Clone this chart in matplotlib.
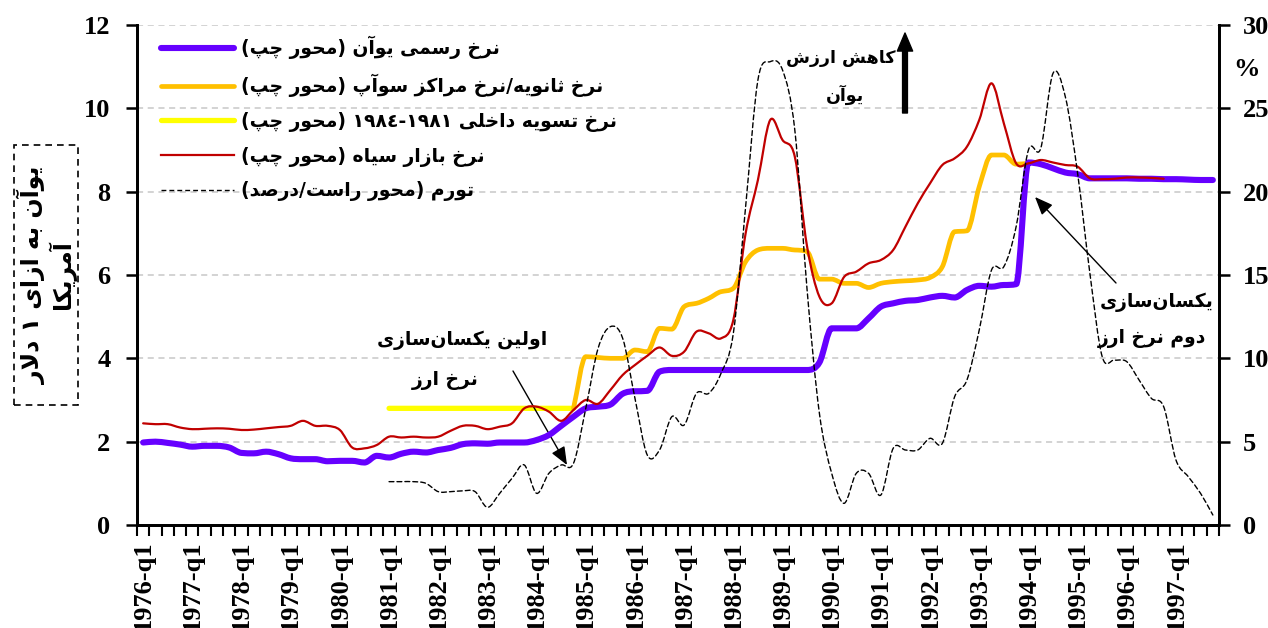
import re
import numpy as np
import matplotlib
matplotlib.use("Agg")
import matplotlib.pyplot as plt
from matplotlib.path import Path
from matplotlib.patches import PathPatch, Rectangle
from matplotlib.lines import Line2D

# ---------------- data ----------------
years = list(range(1976, 1998))
quarters = [f"{y}-q{q}" for y in years for q in range(1, 5)]
tick_labels = [f"{y}-q1" for y in years]

official = [1.98, 2.00, 1.97, 1.93, 1.88, 1.90, 1.90, 1.86, 1.73, 1.72,
            1.76, 1.70, 1.60, 1.58, 1.58, 1.53, 1.54, 1.54, 1.50, 1.66,
            1.62, 1.71, 1.76, 1.74, 1.80, 1.85, 1.94, 1.96, 1.95, 1.98,
            1.98, 1.98, 2.04, 2.16, 2.38, 2.60, 2.80, 2.84, 2.89, 3.15,
            3.21, 3.22, 3.68, 3.72, 3.72, 3.72, 3.72, 3.72, 3.72, 3.72,
            3.72, 3.72, 3.72, 3.72, 3.72, 3.90, 4.72, 4.72, 4.72, 4.96,
            5.24, 5.32, 5.38, 5.40, 5.46, 5.50, 5.46, 5.64, 5.74, 5.72,
            5.76, 5.78, 8.70, 8.66, 8.56, 8.46, 8.42, 8.32, 8.32, 8.32,
            8.32, 8.31, 8.31, 8.30, 8.30, 8.29, 8.28, 8.28]

secondary_start = 35
secondary = [2.80, 4.04, 4.02, 4.00, 4.00, 4.20, 4.16, 4.72, 4.70, 5.24,
             5.32, 5.44, 5.60, 5.68, 6.32, 6.60, 6.64, 6.64, 6.60, 6.56,
             5.90, 5.90, 5.80, 5.80, 5.70, 5.80, 5.84, 5.86, 5.88, 5.94,
             6.20, 7.04, 7.06, 8.12, 8.88, 8.88, 8.66, 8.68]

settlement_start = 20
settlement = [2.80, 2.80, 2.80, 2.80, 2.80, 2.80, 2.80, 2.80,
              2.80, 2.80, 2.80, 2.80, 2.80, 2.80, 2.80, 2.80]

black_market = [2.44, 2.42, 2.42, 2.34, 2.30, 2.31, 2.32, 2.31, 2.28, 2.29,
                2.32, 2.35, 2.38, 2.50, 2.38, 2.38, 2.28, 1.86, 1.84, 1.92,
                2.12, 2.10, 2.12, 2.10, 2.12, 2.26, 2.38, 2.38, 2.30, 2.36,
                2.44, 2.80, 2.84, 2.72, 2.50, 2.76, 3.00, 2.91, 3.24, 3.60,
                3.84, 4.06, 4.26, 4.06, 4.16, 4.64, 4.60, 4.48, 4.92, 7.00,
                8.28, 9.72, 9.24, 8.84, 6.68, 5.48, 5.32, 5.95, 6.08, 6.28,
                6.36, 6.60, 7.16, 7.72, 8.20, 8.64, 8.80, 9.08, 9.72, 10.60,
                9.64, 8.68, 8.68, 8.76, 8.70, 8.64, 8.60, 8.32, 8.30, 8.31,
                8.34, 8.34, 8.33, 8.31]

inflation_start = 20
inflation = [2.6, 2.6, 2.6, 2.5, 2.0, 2.0, 2.05, 2.0, 1.06, 1.9,
             2.8, 3.6, 1.9, 3.1, 3.6, 3.7, 7.0, 10.6, 11.9, 11.2,
             7.6, 4.2, 4.5, 6.5, 6.0, 7.9, 7.9, 9.1, 11.5, 19.1,
             26.7, 27.8, 27.3, 23.7, 14.1, 6.7, 3.1, 1.3, 3.1, 3.1,
             1.8, 4.6, 4.5, 4.5, 5.2, 4.9, 7.7, 8.7, 11.7, 15.3,
             15.5, 17.9, 22.5, 22.6, 27.1, 25.7, 21.1, 15.1, 10.1, 9.9,
             9.8, 8.7, 7.6, 7.1, 3.9, 2.9, 1.9, 0.6]

legend_labels = ["نرخ رسمی یوآن (محور چپ)",
                 "نرخ ثانویه/نرخ مراکز سوآپ (محور چپ)",
                 "نرخ تسویه داخلی ١٩٨١-١٩٨٤ (محور چپ)",
                 "نرخ بازار سیاه (محور چپ)",
                 "تورم (محور راست/درصد)"]

# ---------------- minimal Persian shaping ----------------
DUAL = {'ب': 0xFE8F, 'ت': 0xFE95, 'ث': 0xFE99, 'ج': 0xFE9D, 'ح': 0xFEA1,
        'خ': 0xFEA5, 'س': 0xFEB1, 'ش': 0xFEB5, 'ص': 0xFEB9, 'ض': 0xFEBD,
        'ط': 0xFEC1, 'ظ': 0xFEC5, 'ع': 0xFEC9, 'غ': 0xFECD, 'ف': 0xFED1,
        'ق': 0xFED5, 'ل': 0xFEDD, 'م': 0xFEE1, 'ن': 0xFEE5, 'ه': 0xFEE9,
        'پ': 0xFB56, 'چ': 0xFB7A, 'ک': 0xFB8E, 'گ': 0xFB92, 'ی': 0xFBFC}
RIGHT = {'ا': 0xFE8D, 'آ': 0xFE81, 'د': 0xFEA9, 'ذ': 0xFEAB, 'ر': 0xFEAD,
         'ز': 0xFEAF, 'ژ': 0xFB8A, 'و': 0xFEED}


def _joins(c):
    return c in DUAL or c in RIGHT


def shape(s):
    out = []
    i, n = 0, len(s)
    while i < n:
        c = s[i]
        prev = s[i - 1] if i > 0 else ''
        jp = (prev in DUAL) and _joins(c)
        if c == 'ل' and i + 1 < n and s[i + 1] in 'اآ':
            base = 0xFEFB if s[i + 1] == 'ا' else 0xFEF5
            out.append(chr(base + (1 if jp else 0)))
            i += 2
            continue
        nxt = s[i + 1] if i + 1 < n else ''
        if c in DUAL:
            jn = _joins(nxt)
            off = 3 if (jp and jn) else 1 if jp else 2 if jn else 0
            out.append(chr(DUAL[c] + off))
        elif c in RIGHT:
            out.append(chr(RIGHT[c] + (1 if jp else 0)))
        elif c == '\u200c':
            pass
        else:
            out.append(c)
        i += 1
    return ''.join(out)


def fa(s):
    t = shape(s)[::-1]
    t = re.sub(r'[0-9\u0660-\u0669\u06F0-\u06F9]+', lambda m: m.group(0)[::-1], t)
    return t.translate(str.maketrans('()', ')('))


# ---------------- smooth rendering of the series ----------------
def tangents(y, monotone):
    y = np.asarray(y, float)
    n = len(y)
    d = np.diff(y)
    m = np.zeros(n)
    if n < 2:
        return m
    m[0], m[-1] = d[0], d[-1]
    for k in range(1, n - 1):
        if monotone and d[k - 1] * d[k] <= 0:
            m[k] = 0.0
        else:
            m[k] = 0.5 * (d[k - 1] + d[k])
    if monotone:
        for k in range(n - 1):
            if d[k] == 0:
                m[k] = m[k + 1] = 0.0
                continue
            a, b = m[k] / d[k], m[k + 1] / d[k]
            s = a * a + b * b
            if s > 9:
                t = 3 / np.sqrt(s)
                m[k], m[k + 1] = t * a * d[k], t * b * d[k]
    return m


def smooth_path(x, y, monotone):
    x = np.asarray(x, float)
    y = np.asarray(y, float)
    m = tangents(y, monotone)
    verts = [(x[0], y[0])]
    codes = [Path.MOVETO]
    for k in range(len(x) - 1):
        h = x[k + 1] - x[k]
        verts += [(x[k] + h / 3, y[k] + m[k] * h / 3),
                  (x[k + 1] - h / 3, y[k + 1] - m[k + 1] * h / 3),
                  (x[k + 1], y[k + 1])]
        codes += [Path.CURVE4] * 3
    return Path(verts, codes)


def draw_series(ax, start, values, monotone=False, **kw):
    x = np.arange(start, start + len(values))
    patch = PathPatch(smooth_path(x, values, monotone), fill=False,
                      capstyle='round', joinstyle='round', **kw)
    ax.add_patch(patch)


# ---------------- figure ----------------
W, H = 1268, 628
fig = plt.figure(figsize=(W / 100, H / 100), dpi=100)
ax = fig.add_axes([137 / W, 1 - 525 / H, (1219 - 137) / W, 500 / H])
ax2 = ax.twinx()

PURPLE = '#6600FF'
ORANGE = '#FFC000'
YELLOW = '#FFFF00'
RED = '#C00000'

draw_series(ax, settlement_start, settlement, True, edgecolor=YELLOW, linewidth=3.8, zorder=3)
draw_series(ax, secondary_start, secondary, True, edgecolor=ORANGE, linewidth=3.4, zorder=4)
draw_series(ax, 0, black_market, False, edgecolor=RED, linewidth=1.6, zorder=5)
draw_series(ax, 0, official, True, edgecolor=PURPLE, linewidth=4.4, zorder=4.5)
draw_series(ax2, inflation_start, inflation, False, edgecolor='black', linewidth=1.0,
            linestyle=(0, (3.5, 2.2)), zorder=6)

n = len(quarters)
ax.set_xlim(-0.5, n - 0.5)
ax.set_ylim(0, 12)
ax2.set_ylim(0, 30)

serif = {'family': 'Liberation Serif', 'weight': 'bold', 'size': 19}
ax.set_yticks(range(0, 13, 2))
ax.set_yticklabels([str(v) for v in range(0, 13, 2)], fontdict=serif)
ax2.set_yticks(range(0, 31, 5))
ax2.set_yticklabels([str(v) for v in range(0, 31, 5)], fontdict=serif)

q1_pos = [i for i, q in enumerate(quarters) if q.endswith('q1')]
ax.set_xticks(q1_pos)
ax.set_xticklabels(tick_labels, rotation=90, fontdict=serif, va='top', ha='center')
ax.set_xticks(np.arange(-0.5, n, 1.0), minor=True)
ax.tick_params(axis='x', which='major', length=0, pad=11)
ax.tick_params(axis='x', which='minor', length=8, width=1.5, direction='out')
ax.tick_params(axis='y', which='major', length=8, width=1.8, direction='out', pad=11)
ax2.tick_params(axis='y', which='major', length=8, width=1.8, direction='out', pad=9)

for a in (ax, ax2):
    a.spines['top'].set_visible(False)
    for s in ('left', 'right', 'bottom'):
        a.spines[s].set_linewidth(2)
        a.spines[s].set_color('black')

ax.yaxis.grid(True, linestyle=(0, (4, 3)), color='#c8c8c8', linewidth=1.1)
ax.set_axisbelow(True)

# legend
handles = [Line2D([], [], color=PURPLE, lw=4.4, solid_capstyle='round'),
           Line2D([], [], color=ORANGE, lw=3.4, solid_capstyle='round'),
           Line2D([], [], color=YELLOW, lw=3.8, solid_capstyle='round'),
           Line2D([], [], color=RED, lw=1.6),
           Line2D([], [], color='black', lw=1.0, linestyle=(0, (3.5, 2.2)))]
leg = ax2.legend(handles, [fa(s) for s in legend_labels], loc='upper left',
                 bbox_to_anchor=(161 / W, 1 - 36 / H), bbox_transform=fig.transFigure,
                 frameon=False, handlelength=3.9, handletextpad=0.35,
                 labelspacing=0.78, borderpad=0, borderaxespad=0,
                 prop={'family': 'DejaVu Sans', 'weight': 'bold', 'size': 13.5})

fafont = {'family': 'DejaVu Sans', 'weight': 'bold'}


def px(xp, yp):
    return (xp / W, 1 - yp / H)


# annotations
fig.text(*px(841, 58), fa("کاهش ارزش"), ha='center', va='center', size=12.5, **fafont)
fig.text(*px(845, 95), fa("یوآن"), ha='center', va='center', size=12.5, **fafont)
ax.annotate('', xy=px(905, 33), xytext=px(905, 113), xycoords='figure fraction',
            textcoords='figure fraction',
            arrowprops=dict(width=3.5, headwidth=11, headlength=13, color='black'))

fig.text(*px(462, 340), fa("اولین یکسان\u200cسازی"), ha='center', va='center', size=13.5, **fafont)
fig.text(*px(445, 380), fa("نرخ ارز"), ha='center', va='center', size=13.5, **fafont)
ax.annotate('', xy=px(567, 465), xytext=px(513, 371), xycoords='figure fraction',
            textcoords='figure fraction',
            arrowprops=dict(arrowstyle='-|>,head_length=1.1,head_width=0.45',
                            color='black', lw=1.0, shrinkA=0, shrinkB=0))

fig.text(*px(1157, 302), fa("یکسان\u200cسازی"), ha='center', va='center', size=13.5, **fafont)
fig.text(*px(1152, 338), fa("دوم نرخ ارز"), ha='center', va='center', size=13.5, **fafont)
ax.annotate('', xy=px(1035, 197), xytext=px(1116, 283), xycoords='figure fraction',
            textcoords='figure fraction',
            arrowprops=dict(arrowstyle='-|>,head_length=1.1,head_width=0.45',
                            color='black', lw=1.0, shrinkA=0, shrinkB=0))

fig.text(*px(1247, 70), '%', ha='center', va='center', **serif)

# y-axis title box
fig.patches.append(Rectangle(px(14, 405), 64 / W, 260 / H, transform=fig.transFigure,
                             fill=False, edgecolor='black', linewidth=1.2,
                             linestyle=(0, (4, 3))))
fig.text(*px(32, 275), fa("یوآن به ازای ۱ دلار"), rotation=90, ha='center', va='center',
         size=17, **fafont)
fig.text(*px(62, 275), fa("آمریکا"), rotation=90, ha='center', va='center',
         size=17, **fafont)

fig.savefig('out.png', dpi=100)
